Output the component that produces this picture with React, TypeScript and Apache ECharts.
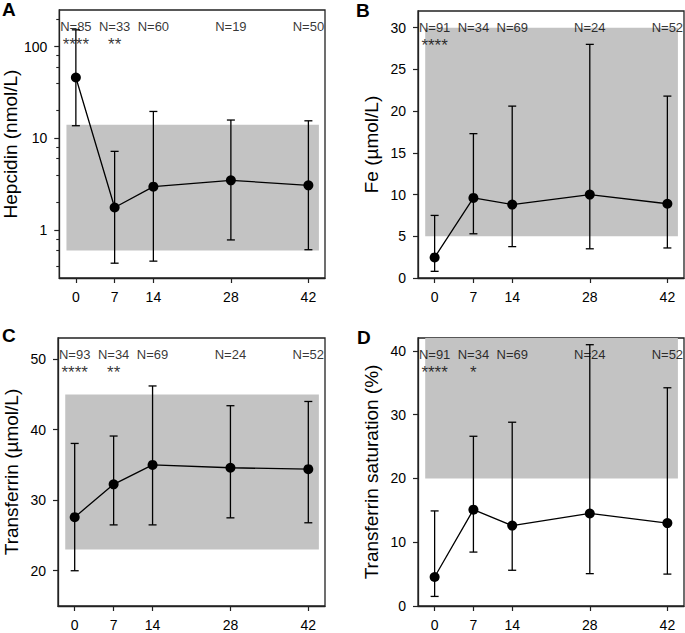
import React, { useEffect, useRef } from 'react';
import * as echarts from 'echarts';

// ---- Data ----
const days = [0, 7, 14, 28, 42];

const hepcidinMean = [46, 1.76, 2.97, 3.48, 3.07];
const hepcidinUpper = [152, 7.2, 19.6, 15.8, 15.5];
const hepcidinLower = [13.7, 0.435, 0.458, 0.78, 0.61];
const hepcidinN = [85, 33, 60, 19, 50];
const hepcidinStars = ['****', '**', '', '', ''];
const hepcidinRef = [0.6, 14];
const hepcidinTicks = [1, 10, 100];
const hepcidinMinorTicks = [0.4, 0.6, 0.8, 2, 4, 6, 8, 20, 40, 60, 80, 200];

const feMean = [2.47, 9.6, 8.8, 10.0, 8.9];
const feUpper = [7.5, 17.3, 20.6, 28.0, 21.8];
const feLower = [0.8, 5.3, 3.76, 3.5, 3.6];
const feN = [91, 34, 69, 24, 52];
const feStars = ['****', '', '', '', ''];
const feRef = [5, 30];
const feTicks = [0, 5, 10, 15, 20, 25, 30];

const tfMean = [27.6, 32.25, 35.0, 34.6, 34.4];
const tfUpper = [38.05, 39.1, 46.2, 43.4, 44.0];
const tfLower = [20.0, 26.5, 26.5, 27.5, 26.8];
const tfN = [93, 34, 69, 24, 52];
const tfStars = ['****', '**', '', '', ''];
const tfRef = [23, 45];
const tfTicks = [20, 30, 40, 50];

const tsatMean = [4.54, 15.1, 12.6, 14.5, 13.0];
const tsatUpper = [14.9, 26.6, 28.8, 40.95, 34.2];
const tsatLower = [1.5, 8.45, 5.6, 5.07, 5.0];
const tsatN = [91, 34, 69, 24, 52];
const tsatStars = ['****', '*', '', '', ''];
const tsatRef = [20, 42];
const tsatTicks = [0, 10, 20, 30, 40];

const bandX = [-1.7, 43.9];

const FONT = "'Liberation Sans', Arial, sans-serif";
const INK = '#000';

interface Panel {
  letter: string;
  name: string;
  logScale: boolean;
  yMin: number;
  yMax: number;
  mean: number[];
  upper: number[];
  lower: number[];
  n: number[];
  stars: string[];
  ref: number[];
  ticks: number[];
  minorTicks?: number[];
  grid: { left: number; top: number; width: number; height: number };
  letterPos: [number, number];
}

const panels: Panel[] = [
  {
    letter: 'A', name: 'Hepcidin (nmol/L)', logScale: true, yMin: 0.3, yMax: 250,
    mean: hepcidinMean, upper: hepcidinUpper, lower: hepcidinLower, n: hepcidinN,
    stars: hepcidinStars, ref: hepcidinRef, ticks: hepcidinTicks, minorTicks: hepcidinMinorTicks,
    grid: { left: 58, top: 10, width: 267, height: 268 }, letterPos: [2, 0],
  },
  {
    letter: 'B', name: 'Fe (\u00b5mol/L)', logScale: false, yMin: 0, yMax: 32,
    mean: feMean, upper: feUpper, lower: feLower, n: feN,
    stars: feStars, ref: feRef, ticks: feTicks,
    grid: { left: 418, top: 11, width: 266, height: 267 }, letterPos: [356, 1],
  },
  {
    letter: 'C', name: 'Transferrin (\u00b5mol/L)', logScale: false, yMin: 15, yMax: 53,
    mean: tfMean, upper: tfUpper, lower: tfLower, n: tfN,
    stars: tfStars, ref: tfRef, ticks: tfTicks,
    grid: { left: 58, top: 338, width: 267, height: 268 }, letterPos: [2, 326],
  },
  {
    letter: 'D', name: 'Transferrin saturation (%)', logScale: false, yMin: 0, yMax: 42,
    mean: tsatMean, upper: tsatUpper, lower: tsatLower, n: tsatN,
    stars: tsatStars, ref: tsatRef, ticks: tsatTicks,
    grid: { left: 418, top: 338, width: 266, height: 268 }, letterPos: [357, 328],
  },
];

function buildOption() {
  const grids: any[] = [];
  const xAxes: any[] = [];
  const yAxes: any[] = [];
  const series: any[] = [];
  const graphics: any[] = [];

  panels.forEach((p, i) => {
    grids.push({
      ...p.grid,
      show: true,
      borderColor: '#222',
      borderWidth: 1.3,
      backgroundColor: 'transparent',
    });
    xAxes.push({
      type: 'value',
      gridIndex: i,
      min: -3,
      max: 45,
      axisLine: { show: true, onZero: false, lineStyle: { color: '#222', width: 1.3 } },
      axisTick: { show: true, length: 5, customValues: days, lineStyle: { color: '#222', width: 1.2 } },
      axisLabel: { customValues: days, fontSize: 14, color: INK, fontFamily: FONT, margin: 12 },
      splitLine: { show: false },
    });
    const yIndex = yAxes.length;
    yAxes.push({
      type: p.logScale ? 'log' : 'value',
      logBase: 10,
      gridIndex: i,
      position: 'left',
      min: p.yMin,
      max: p.yMax,
      name: p.name,
      nameLocation: 'middle',
      nameGap: 37,
      nameTextStyle: { fontSize: 19, color: INK, fontFamily: FONT },
      axisLine: { show: true, onZero: false, lineStyle: { color: '#222', width: 1.3 } },
      axisTick: { show: true, length: 5, customValues: p.ticks, lineStyle: { color: '#222', width: 1.2 } },
      axisLabel: { customValues: p.ticks, fontSize: 14, color: INK, fontFamily: FONT, margin: 12 },
      splitLine: { show: false },
    });
    if (p.minorTicks) {
      yAxes.push({
        type: 'log',
        logBase: 10,
        gridIndex: i,
        position: 'left',
        min: p.yMin,
        max: p.yMax,
        axisLine: { show: false, onZero: false },
        axisTick: { show: true, length: 3, customValues: p.minorTicks, lineStyle: { color: '#222', width: 1.1 } },
        axisLabel: { show: false },
        splitLine: { show: false },
      });
    }

    // reference band
    series.push({
      type: 'line',
      xAxisIndex: i,
      yAxisIndex: yIndex,
      data: [],
      silent: true,
      z: 1,
      markArea: {
        silent: true,
        itemStyle: { color: '#c3c3c3' },
        data: [[{ coord: [bandX[0], p.ref[0]] }, { coord: [bandX[1], p.ref[1]] }]],
      },
    });

    // error bars
    series.push({
      type: 'custom',
      xAxisIndex: i,
      yAxisIndex: yIndex,
      z: 3,
      silent: true,
      clip: false,
      encode: { x: 0, y: [1, 2] },
      data: days.map((d, j) => [d, p.lower[j], p.upper[j]]),
      renderItem: (params: any, api: any) => {
        const x = api.value(0);
        const lo = api.coord([x, api.value(1)]);
        const hi = api.coord([x, api.value(2)]);
        const w = 4;
        const style = { stroke: '#000', lineWidth: 1.3 };
        return {
          type: 'group',
          children: [
            { type: 'line', shape: { x1: lo[0], y1: lo[1], x2: hi[0], y2: hi[1] }, style },
            { type: 'line', shape: { x1: hi[0] - w, y1: hi[1], x2: hi[0] + w, y2: hi[1] }, style },
            { type: 'line', shape: { x1: lo[0] - w, y1: lo[1], x2: lo[0] + w, y2: lo[1] }, style },
          ],
        };
      },
    });

    // mean line
    series.push({
      type: 'line',
      xAxisIndex: i,
      yAxisIndex: yIndex,
      z: 5,
      silent: true,
      data: days.map((d, j) => [d, p.mean[j]]),
      symbol: 'circle',
      symbolSize: 10,
      itemStyle: { color: '#000' },
      lineStyle: { color: '#000', width: 1.3 },
    });

    // N labels
    series.push({
      type: 'scatter',
      xAxisIndex: i,
      yAxisIndex: yIndex,
      z: 6,
      silent: true,
      clip: false,
      symbolSize: 0,
      data: days.map((d, j) => ({ value: [d, p.yMax], name: 'N=' + p.n[j] })),
      label: {
        show: true,
        position: 'inside',
        offset: [0, 16.5],
        formatter: (prm: any) => prm.name,
        fontSize: 13,
        color: INK,
        fontFamily: FONT,
      },
    });

    // significance stars
    series.push({
      type: 'scatter',
      xAxisIndex: i,
      yAxisIndex: yIndex,
      z: 6,
      silent: true,
      clip: false,
      symbolSize: 0,
      data: days
        .map((d, j) => ({ value: [d, p.yMax], name: p.stars[j] }))
        .filter((it) => it.name.length > 0),
      label: {
        show: true,
        position: 'inside',
        offset: [0, 34],
        formatter: (prm: any) => prm.name,
        fontSize: 17,
        color: INK,
        fontFamily: FONT,
      },
    });

    graphics.push({
      type: 'text',
      left: p.letterPos[0],
      top: p.letterPos[1],
      style: { text: p.letter, fontSize: 19, fontWeight: 'bold', fill: '#000', fontFamily: FONT },
    });
  });

  return {
    animation: false,
    backgroundColor: '#fff',
    grid: grids,
    xAxis: xAxes,
    yAxis: yAxes,
    series,
    graphic: graphics,
  };
}

export default function App() {
  const ref = useRef<HTMLDivElement>(null);
  useEffect(() => {
    if (!ref.current) return;
    const chart = echarts.init(ref.current, undefined, { renderer: 'svg' });
    chart.setOption(buildOption() as any);
    return () => chart.dispose();
  }, []);
  return (
    <div
      ref={ref}
      style={{ position: 'fixed', left: 0, top: 0, width: 685, height: 633, background: '#fff' }}
    />
  );
}
